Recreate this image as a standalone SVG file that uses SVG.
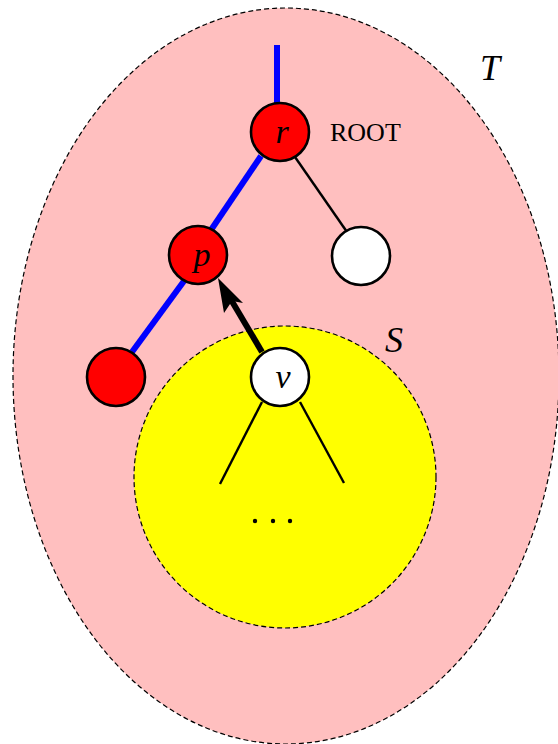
<svg xmlns="http://www.w3.org/2000/svg" width="558" height="744" viewBox="0 0 558 744">
<style>
.region{stroke:#000;stroke-width:1.2;stroke-dasharray:5,3}
.node{stroke:#000;stroke-width:2.6}
.red{fill:#ff0000}
.white{fill:#fff}
.lbl{font-family:"Liberation Serif",serif;font-style:italic;fill:#000}
.blue{stroke:#0000ff;stroke-width:6;fill:none}
.edge{stroke:#000;stroke-width:2.4;fill:none}
</style>
<g id="T">
<ellipse cx="286" cy="376" rx="273" ry="368" fill="#ffbfbf" class="region"/>
<text x="490" y="80" font-size="36" class="lbl" text-anchor="middle">T</text>
</g>
<g id="S">
<circle cx="285" cy="477" r="151" fill="#ffff00" class="region"/>
<text x="394" y="352" font-size="36" class="lbl" text-anchor="middle">S</text>
</g>
<g id="connectors">
<line x1="277" y1="45" x2="277" y2="103" class="blue"/>
<line x1="261" y1="156" x2="211" y2="230" class="blue"/>
<line x1="184" y1="281" x2="132" y2="352" class="blue"/>
<line x1="295" y1="157" x2="347" y2="232" class="edge"/>
<line x1="262" y1="352" x2="230" y2="298" stroke="#000" stroke-width="6"/>
<path d="M218,278 L243,303 L232,301 L224,313 Z" fill="#000"/>
<line x1="262" y1="402" x2="220" y2="484" class="edge"/>
<line x1="300" y1="402" x2="344" y2="483" class="edge"/>
</g>
<g id="node-r">
<circle cx="280" cy="132" r="29" class="node red"/>
<text x="282" y="143" font-size="34" class="lbl" text-anchor="middle">r</text>
<text x="330" y="141" font-size="26" font-family="Liberation Serif, serif" fill="#000">ROOT</text>
</g>
<g id="node-p">
<circle cx="198" cy="255" r="29" class="node red"/>
<text x="202" y="266" font-size="34" class="lbl" text-anchor="middle">p</text>
</g>
<g id="node-right">
<circle cx="361" cy="256" r="29" class="node white"/>
</g>
<g id="node-left">
<circle cx="116" cy="377" r="29" class="node red"/>
</g>
<g id="node-v">
<circle cx="280" cy="377" r="29" class="node white"/>
<text x="283" y="388" font-size="34" class="lbl" text-anchor="middle">v</text>
</g>
<g id="dots" fill="#000">
<circle cx="255" cy="521" r="2.2"/>
<circle cx="273" cy="521" r="2.2"/>
<circle cx="290" cy="521" r="2.2"/>
</g>
</svg>
